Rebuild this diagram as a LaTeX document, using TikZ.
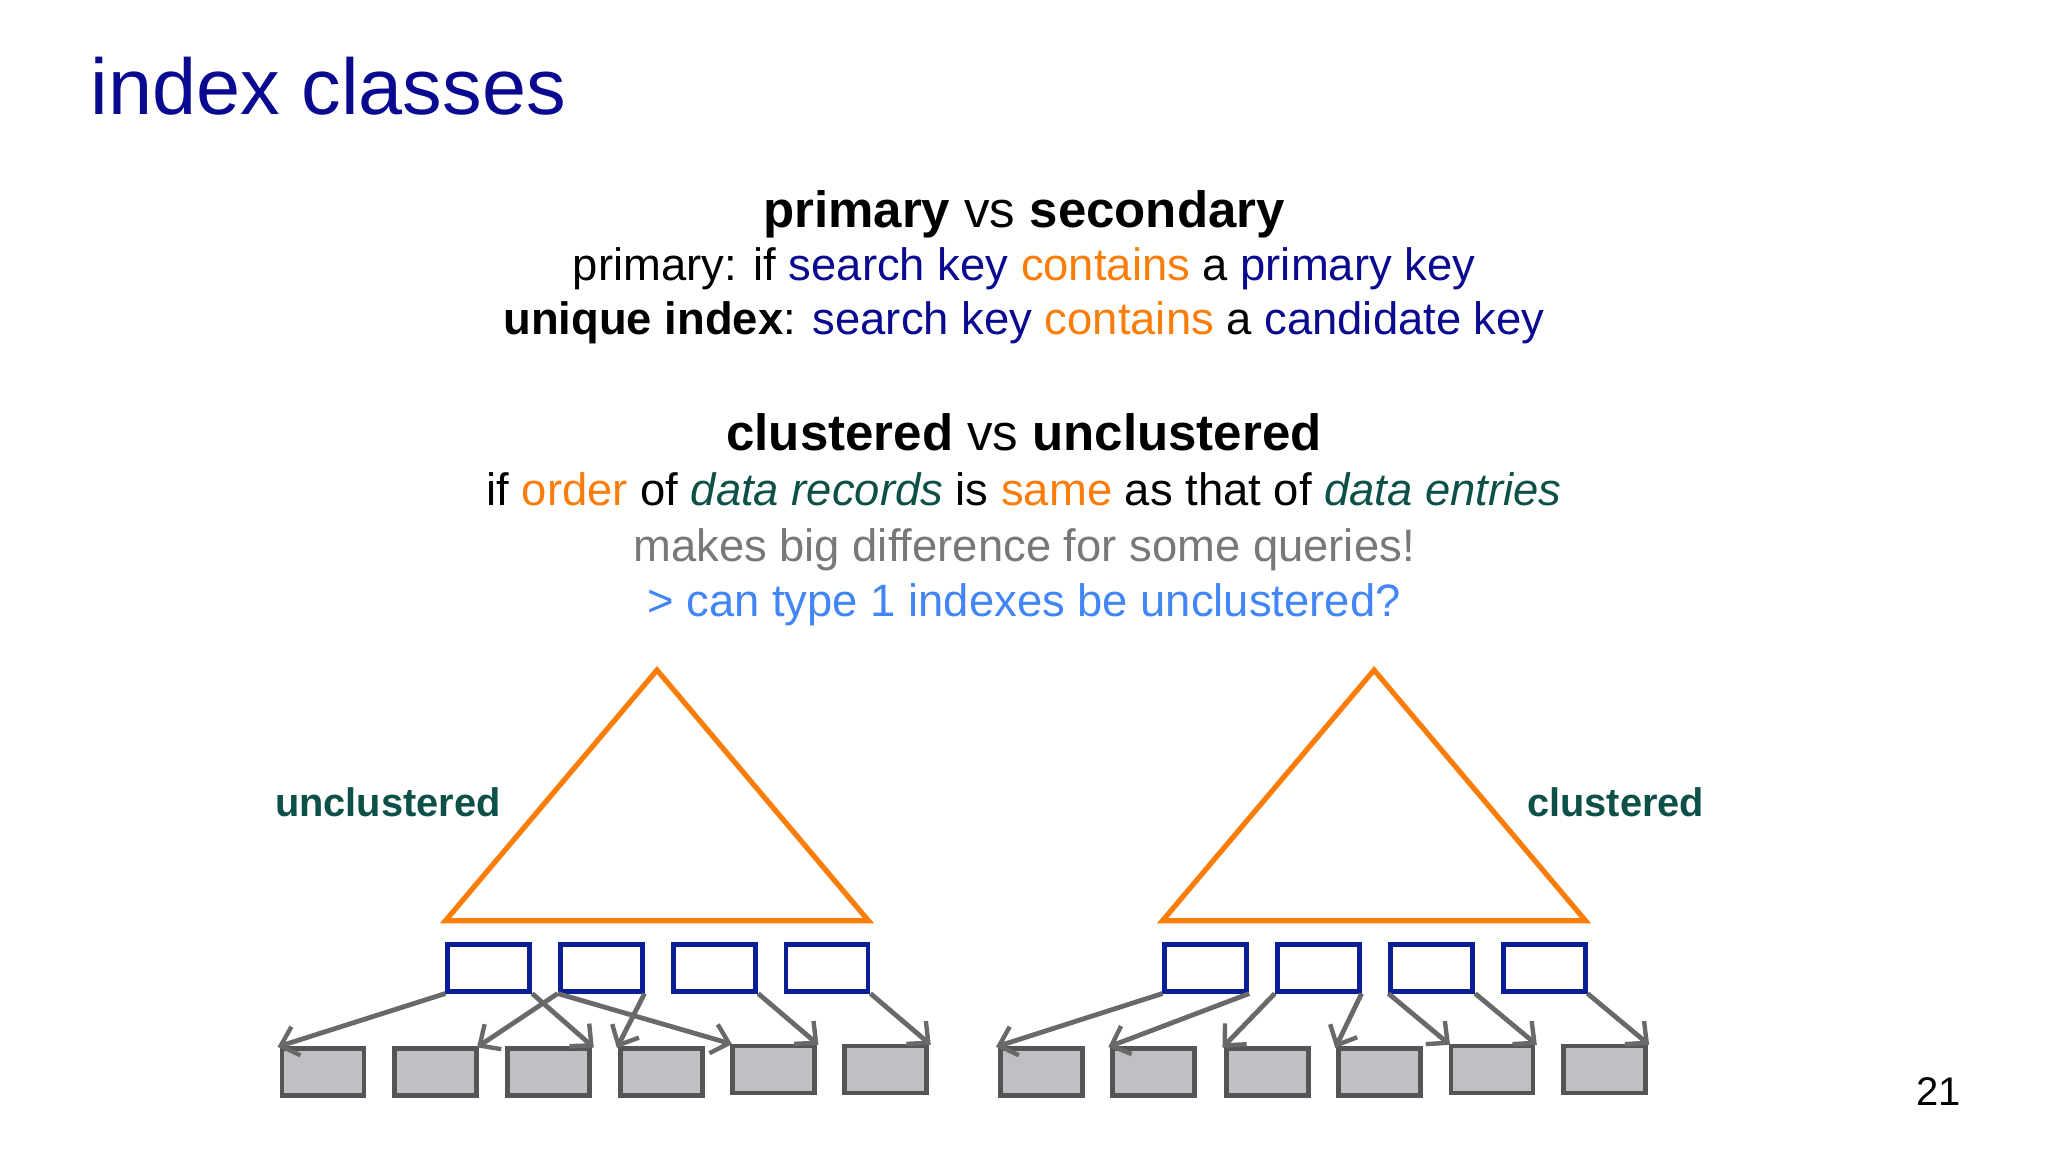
\documentclass[tikz,border=0pt]{standalone}
\usepackage{fontspec}
\setmainfont{Liberation Sans}
\usetikzlibrary{arrows.meta}
\definecolor{navy}{RGB}{10,10,145}
\definecolor{org}{RGB}{250,125,10}
\definecolor{teal2}{RGB}{12,80,72}
\definecolor{gtxt}{RGB}{120,120,120}
\definecolor{lblue}{RGB}{66,133,244}
\definecolor{bbox}{RGB}{10,30,150}
\definecolor{gfill}{RGB}{192,192,196}
\definecolor{gdraw}{RGB}{85,85,85}
\definecolor{garr}{RGB}{105,105,105}
\begin{document}
\begin{tikzpicture}[x=0.65306pt,y=-0.65306pt,
  txt/.style={anchor=base,inner sep=0pt,font=\fontsize{22.7}{26}\selectfont},
  hd/.style={txt,font=\fontsize{25.5}{29}\selectfont},
  lab/.style={anchor=base,inner sep=0pt,text=teal2,font=\fontsize{19.9}{23}\selectfont\bfseries},
  tri/.style={draw=org,line width=2.6pt,line join=miter},
  ib/.style={draw=bbox,line width=2.4pt,minimum width=41pt,minimum height=23.5pt,inner sep=0pt,anchor=north west},
  db/.style={draw=gdraw,fill=gfill,line width=2.4pt,minimum width=41pt,minimum height=23.5pt,inner sep=0pt,anchor=north west},
  ar/.style={draw=garr,line width=2.4pt,-{Straight Barb[length=8pt,width=15pt,line width=2.2pt]},shorten >=-1pt}]
\useasboundingbox (0,0) rectangle (1568,882);
\node[anchor=base west,inner sep=0pt,text=navy,font=\fontsize{39.6}{44}\selectfont] (title) at (69,88) {index classes};
\node[hd] (h1) at (784,174) {\textbf{primary} vs \textbf{secondary}};
\node[txt] (l1) at (784,215) {primary: if \textcolor{navy}{search key} \textcolor{org}{contains} a \textcolor{navy}{primary key}};
\node[txt] (l2) at (784,256) {\textbf{unique index}: \textcolor{navy}{search key} \textcolor{org}{contains} a \textcolor{navy}{candidate key}};
\node[hd] (h2) at (784,345) {\textbf{clustered} vs \textbf{unclustered}};
\node[txt] (l3) at (784,387) {if \textcolor{org}{order} of \textcolor{teal2}{\itshape data records} is \textcolor{org}{same} as that of \textcolor{teal2}{\itshape data entries}};
\node[txt,text=gtxt] (l4) at (784,430) {makes big difference for some queries!};
\node[txt,text=lblue] (l5) at (784,472) {> can type 1 indexes be unclustered?};
\node[lab] (ul) at (297,625) {unclustered};
\node[lab] (cl) at (1237,625) {clustered};
\node[anchor=base,inner sep=0pt,font=\fontsize{20}{24}\selectfont] (pg) at (1484,846) {21};
\draw[tri] (503,513) -- (665,705) -- (341,705) -- cycle;
\draw[tri] (1052,513) -- (1214,705) -- (890,705) -- cycle;
% left index boxes
\node[ib] (a1) at (341,721) {};
\node[ib] (a2) at (427,721) {};
\node[ib] (a3) at (514,721) {};
\node[ib] (a4) at (600,721) {};
\node[db] (p1) at (214,801) {};
\node[db] (p2) at (300,801) {};
\node[db] (p3) at (387,801) {};
\node[db] (p4) at (473,801) {};
\node[db] (p5) at (559,799) {};
\node[db] (p6) at (645,799) {};
% right
\node[ib] (b1) at (890,721) {};
\node[ib] (b2) at (976,721) {};
\node[ib] (b3) at (1063,721) {};
\node[ib] (b4) at (1149,721) {};
\node[db] (q1) at (764,801) {};
\node[db] (q2) at (850,801) {};
\node[db] (q3) at (937,801) {};
\node[db] (q4) at (1023,801) {};
\node[db] (q5) at (1109,799) {};
\node[db] (q6) at (1195,799) {};
\draw[ar] (a1.south west) -- (p1.north west);
\draw[ar] (a1.south east) -- (p3.north east);
\draw[ar] (a2.south west) -- (p2.north east);
\draw[ar] (a2.south west) -- (p5.north west);
\draw[ar] (a2.south east) -- (p4.north west);
\draw[ar] (a3.south east) -- (p5.north east);
\draw[ar] (a4.south east) -- (p6.north east);
\draw[ar] (b1.south west) -- (q1.north west);
\draw[ar] (b1.south east) -- (q2.north west);
\draw[ar] (b2.south west) -- (q3.north west);
\draw[ar] (b2.south east) -- (q4.north west);
\draw[ar] (b3.south west) -- (q5.north west);
\draw[ar] (b3.south east) -- (q5.north east);
\draw[ar] (b4.south east) -- (q6.north east);
\end{tikzpicture}
\end{document}
